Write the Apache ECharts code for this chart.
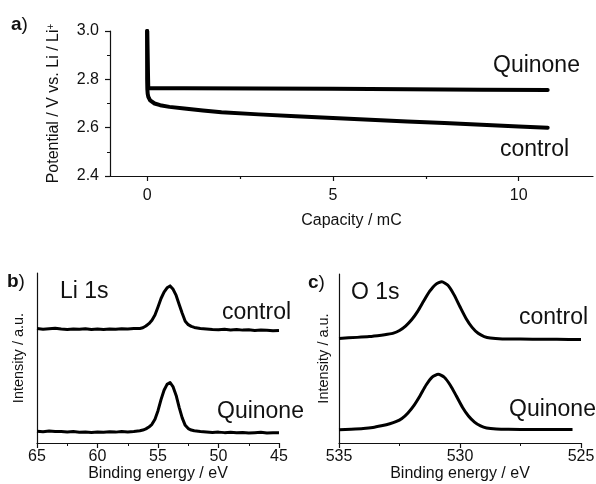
<!DOCTYPE html>
<html>
<head>
<meta charset="utf-8">
<script src="https://cdn.jsdelivr.net/npm/echarts@6/dist/echarts.min.js"></script>
<style>
html,body{margin:0;padding:0;background:#fff;}
#chart{width:596px;height:484px;}
</style>
</head>
<body>
<div id="chart"></div>
<script>
// Panel a: potential vs capacity
var capQuinone = [0, 0.03, 1, 3, 5, 7, 9, 10.78];
var potQuinone = [3.0, 2.763, 2.763, 2.762, 2.761, 2.759, 2.757, 2.756];
var capControl = [0, 0, 0.005, 0.015, 0.03, 0.05, 0.08, 0.12, 0.2, 0.35, 0.6, 1.0, 1.5, 2, 3, 4, 5, 6, 7, 8, 9, 10, 10.78];
var potControl = [3.0, 2.80, 2.76, 2.74, 2.728, 2.72, 2.713, 2.707, 2.700, 2.693, 2.686, 2.679, 2.671, 2.664, 2.655, 2.647, 2.640, 2.633, 2.626, 2.619, 2.612, 2.605, 2.600];
var capTicks = [0, 5, 10];
var capMinorTicks = [2.5, 7.5];

// Panel b: Li 1s
var liEnergy = [65, 64.5, 64, 63.5, 63, 62.5, 62, 61.5, 61, 60.5, 60, 59.5, 59, 58.5, 58, 57.5, 57,
  56.5, 56.25, 56, 55.75, 55.5, 55.25, 55, 54.75, 54.5, 54.25, 54, 53.75, 53.5, 53.25, 53, 52.75, 52.5, 52.25, 52, 51.5,
  51, 50.5, 50, 49.5, 49, 48.5, 48, 47.5, 47, 46.5, 46, 45.5, 45];
var liControl = [67.3, 66.9, 67.2, 67.5, 67.0, 66.8, 67.1, 66.9, 67.2, 66.7, 67.0, 66.8, 67.1, 66.9, 67.2, 67.0, 67.3,
  67.4, 67.8, 68.8, 70.2, 72.2, 75.3, 80.0, 85.0, 88.8, 91.3, 92.4, 90.4, 86.8, 81.5, 76.3, 71.6, 69.6, 68.6, 68.0, 67.4,
  67.1, 66.8, 66.6, 66.9, 66.5, 66.7, 66.4, 66.6, 66.2, 66.5, 66.3, 66.0, 66.2];
var liQuinone = [6.9, 6.6, 7.0, 6.7, 6.8, 6.5, 6.7, 6.3, 6.4, 6.2, 6.5, 6.3, 6.6, 6.4, 6.7, 6.5, 6.8,
  7.2, 7.6, 8.3, 9.4, 11.0, 14.0, 19.0, 25.5, 31.0, 34.5, 35.6, 33.0, 28.0, 21.0, 14.8, 10.4, 8.5, 7.6, 7.2, 6.8,
  6.5, 6.2, 6.4, 6.1, 6.3, 6.0, 6.2, 5.9, 6.1, 6.3, 5.9, 6.1, 6.0];

// Panel c: O 1s
var oEnergyControl = [535, 534.25, 533.75, 533.25, 533, 532.75, 532.5, 532.25, 532, 531.75, 531.5, 531.25, 531, 530.75,
  530.5, 530.25, 530, 529.75, 529.5, 529.25, 529, 528.75, 528.25, 527.5, 526.5, 525.5, 525];
var oControl = [61.9, 62.5, 63.0, 63.8, 64.3, 65.0, 66.6, 69.2, 72.9, 77.9, 84.0, 89.8, 93.9, 95.4,
  93.3, 87.8, 80.6, 73.7, 68.4, 64.9, 63.0, 62.1, 61.6, 61.5, 61.4, 61.3, 61.3];
var oEnergyQuinone = [535, 534.5, 534, 533.6, 533.25, 532.9, 532.65, 532.4, 532.15, 531.9, 531.65, 531.4, 531.15, 530.9,
  530.65, 530.4, 530.15, 529.9, 529.65, 529.4, 529.15, 528.9, 528.5, 528, 527, 526, 525.35];
var oQuinone = [7.9, 8.2, 8.6, 9.2, 10.2, 11.4, 12.6, 14.5, 17.8, 22.3, 28.0, 34.3, 39.0, 40.7,
  38.9, 34.2, 27.8, 21.2, 16.0, 12.4, 10.1, 8.9, 8.3, 8.1, 8.0, 8.0, 8.0];

function pairs(xs, ys) { return xs.map(function (x, i) { return [x, ys[i]]; }); }

var FONT = 'Liberation Sans, Arial, sans-serif';
var INK = '#111';
var axisLine = { show: true, onZero: false, lineStyle: { color: INK, width: 1.2 } };
var nameStyle = { color: INK, fontSize: 16, fontFamily: FONT };

function txt(text, x, y, size, rich) {
  var style = { text: text, x: x, y: y, fill: INK, fontSize: size, fontFamily: FONT, verticalAlign: 'middle', align: 'left' };
  if (rich) style.rich = rich;
  return { type: 'text', style: style, z: 100 };
}
var boldRich = { b: { fontWeight: 'bold', fontSize: 19, fontFamily: FONT, fill: INK } };

var chart = echarts.init(document.getElementById('chart'), null, { renderer: 'canvas' });
chart.setOption({
  backgroundColor: '#fff',
  animation: false,
  grid: [
    { left: 110, top: 31, right: 3, bottom: 308, outerBoundsMode: 'none' },
    { left: 37, top: 273, right: 317, bottom: 41, outerBoundsMode: 'none' },
    { left: 339, top: 274, right: 15, bottom: 41, outerBoundsMode: 'none' }
  ],
  xAxis: [
    {
      gridIndex: 0, type: 'value', min: -1, max: 12, position: 'bottom',
      axisLine: axisLine,
      axisTick: { show: true, length: 5, customValues: capTicks, lineStyle: { color: INK, width: 1.2 } },
      axisLabel: { show: true, customValues: capTicks, margin: 12, color: INK, fontSize: 16, fontFamily: FONT },
      splitLine: { show: false },
      name: 'Capacity / mC', nameLocation: 'middle', nameGap: 37, nameTextStyle: nameStyle
    },
    {
      gridIndex: 0, type: 'value', min: -1, max: 12, position: 'bottom',
      axisLine: { show: false },
      axisTick: { show: true, length: 3, customValues: capMinorTicks, lineStyle: { color: INK, width: 1.2 } },
      axisLabel: { show: false },
      splitLine: { show: false }
    },
    {
      gridIndex: 1, type: 'value', min: 45, max: 65, interval: 5, inverse: true,
      axisLine: axisLine,
      axisTick: { show: true, length: 5, lineStyle: { color: INK, width: 1.2 } },
      minorTick: { show: true, splitNumber: 2, length: 3, lineStyle: { color: INK, width: 1 } },
      axisLabel: { margin: 6, color: INK, fontSize: 16, fontFamily: FONT },
      splitLine: { show: false }, minorSplitLine: { show: false },
      name: 'Binding energy / eV', nameLocation: 'middle', nameGap: 21, nameTextStyle: nameStyle
    },
    {
      gridIndex: 2, type: 'value', min: 525, max: 535, interval: 5, inverse: true,
      axisLine: axisLine,
      axisTick: { show: true, length: 5, lineStyle: { color: INK, width: 1.2 } },
      minorTick: { show: true, splitNumber: 2, length: 3, lineStyle: { color: INK, width: 1 } },
      axisLabel: { margin: 6, color: INK, fontSize: 16, fontFamily: FONT },
      splitLine: { show: false }, minorSplitLine: { show: false },
      name: 'Binding energy / eV', nameLocation: 'middle', nameGap: 21, nameTextStyle: nameStyle
    }
  ],
  yAxis: [
    {
      gridIndex: 0, type: 'value', min: 2.4, max: 3.0, interval: 0.2,
      axisLine: axisLine,
      axisTick: { show: true, length: 5, lineStyle: { color: INK, width: 1.2 } },
      minorTick: { show: true, splitNumber: 2, length: 3, lineStyle: { color: INK, width: 1 } },
      axisLabel: { margin: 11, color: INK, fontSize: 16, fontFamily: FONT, formatter: function (v) { return v.toFixed(1); } },
      splitLine: { show: false }, minorSplitLine: { show: false },
      name: 'Potential / V vs. Li / Li{sup|+}', nameLocation: 'middle', nameGap: 48,
      nameTextStyle: { color: INK, fontSize: 16, fontFamily: FONT, rich: { sup: { fontSize: 10, fontFamily: FONT, color: INK, verticalAlign: 'top', lineHeight: 16 } } }
    },
    {
      gridIndex: 1, type: 'value', min: 0, max: 100,
      axisLine: axisLine, axisTick: { show: false }, axisLabel: { show: false }, splitLine: { show: false },
      name: 'Intensity / a.u.', nameLocation: 'middle', nameGap: 11, nameTextStyle: { color: INK, fontSize: 14.5, fontFamily: FONT }
    },
    {
      gridIndex: 2, type: 'value', min: 0, max: 100,
      axisLine: axisLine, axisTick: { show: false }, axisLabel: { show: false }, splitLine: { show: false },
      name: 'Intensity / a.u.', nameLocation: 'middle', nameGap: 8, nameTextStyle: { color: INK, fontSize: 14.5, fontFamily: FONT }
    }
  ],
  series: [
    { name: 'Quinone', type: 'line', xAxisIndex: 0, yAxisIndex: 0, data: pairs(capQuinone, potQuinone), showSymbol: false, lineStyle: { color: '#000', width: 4, cap: 'round', join: 'round' } },
    { name: 'control', type: 'line', xAxisIndex: 0, yAxisIndex: 0, data: pairs(capControl, potControl), showSymbol: false, lineStyle: { color: '#000', width: 4, cap: 'round', join: 'round' } },
    { name: 'Li control', type: 'line', xAxisIndex: 2, yAxisIndex: 1, data: pairs(liEnergy, liControl), showSymbol: false, lineStyle: { color: '#000', width: 3, join: 'round' } },
    { name: 'Li Quinone', type: 'line', xAxisIndex: 2, yAxisIndex: 1, data: pairs(liEnergy, liQuinone), showSymbol: false, lineStyle: { color: '#000', width: 3, join: 'round' } },
    { name: 'O control', type: 'line', xAxisIndex: 3, yAxisIndex: 2, data: pairs(oEnergyControl, oControl), smooth: 0.2, showSymbol: false, lineStyle: { color: '#000', width: 3, join: 'round' } },
    { name: 'O Quinone', type: 'line', xAxisIndex: 3, yAxisIndex: 2, data: pairs(oEnergyQuinone, oQuinone), smooth: 0.2, showSymbol: false, lineStyle: { color: '#000', width: 3, join: 'round' } }
  ],
  graphic: [
    txt('{b|a})', 11, 25, 19, boldRich),
    txt('{b|b})', 7, 282, 19, boldRich),
    txt('{b|c})', 308, 283, 19, boldRich),
    txt('Quinone', 493, 66, 23),
    txt('control', 500, 150, 23),
    txt('Li 1s', 60, 292, 23),
    txt('control', 222, 313, 23),
    txt('Quinone', 217, 412, 23),
    txt('O 1s', 351, 293, 23),
    txt('control', 519, 318, 23),
    txt('Quinone', 509, 410, 23)
  ]
});
</script>
</body>
</html>
